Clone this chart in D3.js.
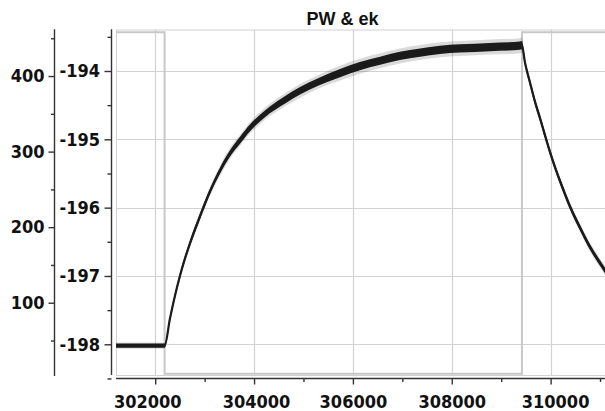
<!DOCTYPE html>
<html>
<head>
<meta charset="utf-8">
<script src="https://cdn.jsdelivr.net/npm/d3@7"></script>
<style>
html,body{margin:0;padding:0;background:#fff;}
svg{display:block;}
</style>
</head>
<body>
<svg id="chart" width="605" height="411"></svg>
<script>
// ---- data ----
const title = "PW & ek";
const xTicks = [302000, 304000, 306000, 308000, 310000];
const xMinorTicks = [303000, 305000, 307000, 309000, 311000];
const ekTicks = [-198, -197, -196, -195, -194];
const ekMinorTicks = [-198.5, -197.5, -196.5, -195.5, -194.5, -193.5];
const pwTicks = [100, 200, 300, 400];
const pwMinorTicks = [50, 150, 250, 350, 450];

// ek trace: time, mean value, core noise half-width, scatter half-width
const ekTime = [301210, 302190, 302300, 302400, 302500, 302600, 302700, 302910, 303110, 303310,
  303510, 303720, 303920, 304120, 304320, 304630, 304930, 305330, 305740, 306140,
  306550, 306950, 307360, 307760, 308170, 308770, 309380, 309420, 309480, 309580,
  309680, 309790, 309890, 309990, 310090, 310190, 310290, 310390, 310600, 310800,
  311000, 311120];
const ekValue = [-198.02, -198.02, -197.62, -197.29, -197.00, -196.75, -196.53, -196.12, -195.76, -195.46,
  -195.21, -195.01, -194.83, -194.69, -194.57, -194.42, -194.29, -194.15, -194.03, -193.93,
  -193.85, -193.78, -193.73, -193.69, -193.67, -193.65, -193.63, -193.62, -193.87, -194.16,
  -194.44, -194.70, -194.95, -195.19, -195.41, -195.61, -195.80, -195.98, -196.30, -196.58,
  -196.81, -196.94];
const ekNoise = [0.03, 0.03, 0.03, 0.035, 0.035, 0.035, 0.04, 0.04, 0.04, 0.045,
  0.045, 0.05, 0.05, 0.05, 0.05, 0.055, 0.055, 0.055, 0.06, 0.06,
  0.06, 0.06, 0.06, 0.06, 0.06, 0.06, 0.06, 0.06, 0.05, 0.045,
  0.045, 0.045, 0.045, 0.04, 0.04, 0.04, 0.04, 0.04, 0.04, 0.04,
  0.04, 0.04];
const ekScatter = [0.045, 0.045, 0.05, 0.05, 0.055, 0.06, 0.06, 0.07, 0.07, 0.075,
  0.08, 0.08, 0.085, 0.09, 0.09, 0.095, 0.1, 0.1, 0.11, 0.11,
  0.11, 0.11, 0.11, 0.11, 0.11, 0.11, 0.11, 0.11, 0.08, 0.07,
  0.07, 0.07, 0.07, 0.065, 0.065, 0.065, 0.065, 0.065, 0.065, 0.065,
  0.065, 0.065];

// PW pulse: time, value
const pwTime = [301210, 302190, 302190, 309420, 309420, 311200];
const pwValue = [458, 458, 6, 6, 458, 458];

// ---- layout ----
const svg = d3.select("#chart");
const plot = {left: 116, right: 606, top: 29.5, bottom: 375};
const xLabelShift = [-8, 2, 0, 0, 4.5];

const x = d3.scaleLinear().domain([302000, 310000]).range([155.2, 550.6]);
const yEk = d3.scaleLinear().domain([-198, -194]).range([344.3, 71]);
const yPw = d3.scaleLinear().domain([0, 460]).range([378.3, 30.7]);

const gridColor = "#d2d2d2";
const axisColor = "#333";
const labelFont = "'DejaVu Sans Condensed', 'DejaVu Sans', sans-serif";

svg.append("defs").append("clipPath").attr("id", "clip")
  .append("rect").attr("x", plot.left).attr("y", plot.top)
  .attr("width", plot.right - plot.left).attr("height", plot.bottom - plot.top);

// frame
svg.append("rect").attr("x", plot.left + 0.5).attr("y", plot.top + 0.5)
  .attr("width", plot.right - plot.left).attr("height", plot.bottom - plot.top)
  .attr("fill", "none").attr("stroke", gridColor).attr("stroke-width", 1);

// grid
const grid = svg.append("g");
grid.selectAll("line.v").data(xTicks).join("line")
  .attr("x1", d => Math.round(x(d)) + 0.5).attr("x2", d => Math.round(x(d)) + 0.5)
  .attr("y1", plot.top).attr("y2", plot.bottom)
  .attr("stroke", gridColor).attr("stroke-width", 1.2);
grid.selectAll("line.h").data(ekTicks).join("line")
  .attr("y1", d => Math.round(yEk(d)) + 0.5).attr("y2", d => Math.round(yEk(d)) + 0.5)
  .attr("x1", plot.left).attr("x2", plot.right)
  .attr("stroke", gridColor).attr("stroke-width", 1.2);

// PW pulse
const pulseLine = d3.line().x((d, i) => x(pwTime[i])).y((d, i) => yPw(pwValue[i]));
svg.append("path").datum(pwTime).attr("clip-path", "url(#clip)")
  .attr("d", pulseLine).attr("fill", "none")
  .attr("stroke", "#c8c8c8").attr("stroke-width", 2);

// ek trace
const g = svg.append("g").attr("clip-path", "url(#clip)");
const idx = d3.range(ekTime.length);
const scatterArea = d3.area().curve(d3.curveMonotoneX)
  .x(i => x(ekTime[i])).y0(i => yEk(ekValue[i] - ekScatter[i])).y1(i => yEk(ekValue[i] + ekScatter[i]));
const coreArea = d3.area().curve(d3.curveMonotoneX)
  .x(i => x(ekTime[i])).y0(i => yEk(ekValue[i] - ekNoise[i])).y1(i => yEk(ekValue[i] + ekNoise[i]));
const centerLine = d3.line().curve(d3.curveMonotoneX)
  .x(i => x(ekTime[i])).y(i => yEk(ekValue[i]));
g.append("path").datum(idx).attr("d", scatterArea).attr("fill", "#444").attr("opacity", 0.2);
g.append("path").datum(idx).attr("d", coreArea).attr("fill", "#1b1b1b");
g.append("path").datum(idx).attr("d", centerLine).attr("fill", "none")
  .attr("stroke", "#1b1b1b").attr("stroke-width", 2.2);

// axes
function styleAxis(sel) {
  sel.select(".domain").attr("stroke", axisColor).attr("stroke-width", 1.4);
  sel.selectAll(".tick line").attr("stroke", axisColor).attr("stroke-width", 1.4);
  sel.selectAll(".tick text").attr("fill", "#111")
    .style("font-family", labelFont).style("font-weight", "bold").style("font-size", "18px");
}

// outer PW axis
const pwAxisG = svg.append("g").attr("transform", "translate(54.5,0)");
pwAxisG.call(d3.axisLeft(yPw).tickValues(pwTicks).tickSize(6).tickSizeOuter(0).tickPadding(4).tickFormat(d3.format("d")));
pwAxisG.select(".domain").attr("d", `M0,${29.3}V${376}`);
const pwMinorG = svg.append("g").attr("transform", "translate(54.5,0)");
pwMinorG.call(d3.axisLeft(yPw).tickValues(pwMinorTicks).tickSize(3.5).tickFormat(""));
pwMinorG.select(".domain").remove();
styleAxis(pwAxisG); styleAxis(pwMinorG);

// inner ek axis
const ekAxisG = svg.append("g").attr("transform", "translate(111.5,0)");
ekAxisG.call(d3.axisLeft(yEk).tickValues(ekTicks).tickSize(7).tickSizeOuter(0).tickPadding(4.5).tickFormat(d => String(d)));
ekAxisG.select(".domain").attr("d", `M0,${29.3}V${375}`);
const ekMinorG = svg.append("g").attr("transform", "translate(111.5,0)");
ekMinorG.call(d3.axisLeft(yEk).tickValues(ekMinorTicks).tickSize(4).tickFormat(""));
ekMinorG.select(".domain").remove();
styleAxis(ekAxisG); styleAxis(ekMinorG);

// x axis
const xAxisG = svg.append("g").attr("transform", "translate(0,378.5)");
xAxisG.call(d3.axisBottom(x).tickValues(xTicks).tickSize(6).tickSizeOuter(0).tickPadding(10.5).tickFormat(d3.format("d")));
xAxisG.select(".domain").attr("d", `M${116},0H${606}`);
xAxisG.selectAll(".tick text").attr("dx", (d, i) => xLabelShift[i]);
const xMinorG = svg.append("g").attr("transform", "translate(0,378.5)");
xMinorG.call(d3.axisBottom(x).tickValues(xMinorTicks).tickSize(3.5).tickFormat(""));
xMinorG.select(".domain").remove();
styleAxis(xAxisG); styleAxis(xMinorG);

// title
svg.append("text").attr("x", 342.5).attr("y", 25).attr("text-anchor", "middle")
  .style("font-family", "'Liberation Sans', Arial, sans-serif").style("font-weight", "bold")
  .style("font-size", "18px").attr("fill", "#111").text(title);
</script>
</body>
</html>
